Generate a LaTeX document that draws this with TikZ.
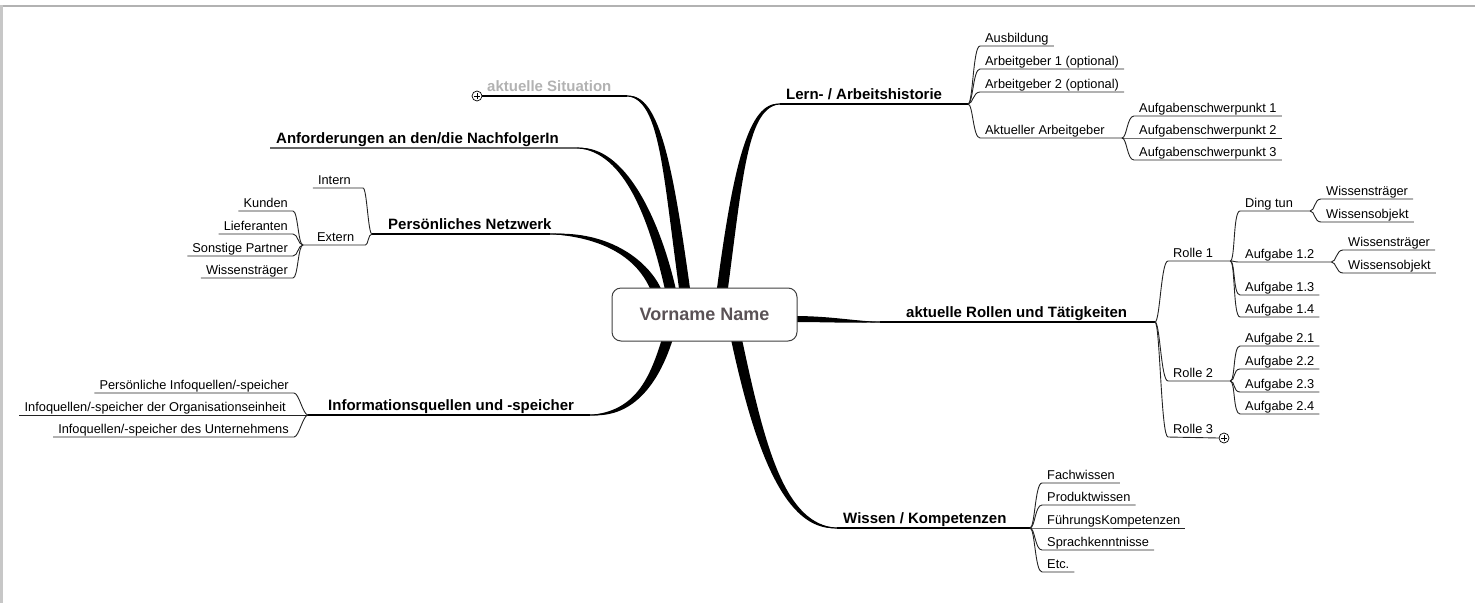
\documentclass[tikz,border=0pt]{standalone}
\usepackage{fontspec}
\setmainfont{Liberation Sans}
\usetikzlibrary{calc}
\definecolor{rootgray}{RGB}{90,82,86}
\definecolor{sitgray}{RGB}{178,178,178}
\definecolor{linegray}{RGB}{35,35,35}
\newcommand{\leaffont}{\fontsize{12.8}{15}\selectfont}
\newcommand{\brfont}{\fontsize{15}{18}\selectfont\bfseries}
% #1 start, #2 end, #3 c1 offset from start, #4 c2 offset from end, #5 half width at start, #6 half width offset at c2
\newcommand{\taperline}[6]{%
  \fill[black] ($(#1)+(#5)$) .. controls ($(#1)+(#5)+(#3)$) and ($(#2)+(#4)+(#6)$) .. (#2)
     .. controls ($(#2)+(#4)-(#6)$) and ($(#1)-(#5)+(#3)$) .. ($(#1)-(#5)$) -- cycle;
  \draw[black, line width=1.2pt] (#1) .. controls ($(#1)+(#3)$) and ($(#2)+(#4)$) .. (#2);}
\newcommand{\rconn}[2]{\draw[ul] (#1) .. controls +(5,0) and +(-7,0) .. (#2.south west) -- (#2.south east);}
\newcommand{\rconnp}[3]{\draw[ul] (#1) .. controls +(5,0) and +(-7,0) .. (#2.south west) -- (#3);}
\newcommand{\lconn}[2]{\draw[ul] (#2.south west) -- (#2.south east) .. controls +(5,0) and +(-5,0) .. (#1);}
\begin{document}
\begin{tikzpicture}[x=1pt,y=-1pt,
  leaf/.style={font=\leaffont, inner xsep=5pt, inner ysep=0pt, text depth=3pt, text height=9.5pt},
  brlabel/.style={font=\brfont, inner sep=0pt, anchor=base west},
  ul/.style={draw=linegray, line width=0.9pt},
  mainul/.style={draw=black, line width=1.1pt},
  plusc/.style={circle, draw=black, line width=0.7pt, minimum size=10pt, inner sep=0pt, fill=white,
    path picture={\draw[line width=0.6pt] ($(path picture bounding box.center)+(-2.8pt,0pt)$) -- ($(path picture bounding box.center)+(2.8pt,0pt)$);
                  \draw[line width=0.6pt] ($(path picture bounding box.center)+(0pt,-2.8pt)$) -- ($(path picture bounding box.center)+(0pt,2.8pt)$);}},
]
\useasboundingbox (0,0) rectangle (1475,603);
% frame
\fill[black!30] (0,4.5) rectangle (1475,7);
\fill[black!22] (0,4.5) rectangle (2.5,603);

% root position helper
\coordinate (rootc) at (704.5,314.5);

% main branch labels
\node[brlabel, text=sitgray] (sit) at (487,91) {aktuelle Situation};
\node[brlabel] (anf) at (276,143) {Anforderungen an den/die NachfolgerIn};
\node[brlabel] (pn) at (388,229) {Persönliches Netzwerk};
\node[brlabel] (info) at (328,410) {Informationsquellen und -speicher};
\node[brlabel] (lern) at (786,99) {Lern- / Arbeitshistorie};
\node[brlabel] (rollen) at (906,317) {aktuelle Rollen und Tätigkeiten};
\node[brlabel] (wissen) at (843,523) {Wissen / Kompetenzen};

\coordinate (sitB) at (627,96);
\coordinate (anfL) at (270,148);
\coordinate (anfB) at (577,148);
\coordinate (pnB) at (550,234);
\coordinate (pnfork) at (372,234);
\coordinate (infoB) at (590,415);
\coordinate (infofork) at (308,415);
\coordinate (lernB) at (780,104);
\coordinate (lernfork) at (968,104);
\coordinate (rollenB) at (880,322);
\coordinate (rfork) at (1155,322);
\coordinate (wissenB) at (837,528);
\coordinate (wfork) at (1030,528);

% taper anchors on root
\coordinate (sitA) at ($(rootc)+(-19.5,-22.5)$);
\coordinate (anfA) at ($(rootc)+(-33.5,-22.5)$);
\coordinate (pnA) at ($(rootc)+(-47.5,-22.5)$);
\coordinate (lernA) at ($(rootc)+(17.5,-22.5)$);
\coordinate (infoA) at ($(rootc)+(-36.5,22.5)$);
\coordinate (wissenA) at ($(rootc)+(31.5,22.5)$);
\coordinate (rollenA) at ($(rootc)+(88.5,4.5)$);

\taperline{sitA}{sitB}{-17,-122}{33,0}{5.5,0}{0,-4}
\taperline{anfA}{anfB}{-16,-72}{48,0}{5.5,0}{0,-4}
\taperline{pnA}{pnB}{-12,-30}{60,0}{5.5,0}{0,-4}
\taperline{lernA}{lernB}{16,-122}{-32,0}{5.5,0}{0,4}
\taperline{infoA}{infoB}{-13,43}{45,0}{5.5,0}{0,4}
\taperline{wissenA}{wissenB}{24,113}{-52,0}{5.5,0}{0,-4}
\taperline{rollenA}{rollenB}{37,0}{-30,0}{0,3}{0,1.5}

% root node
\node[draw=black!75, line width=1pt, rounded corners=9pt, fill=white,
      minimum width=185pt, minimum height=53pt,
      font=\fontsize{18}{20}\selectfont\bfseries, text=rootgray] (root) at (rootc) {Vorname Name};

% main underlines
\node[plusc] (sitplus) at (477,96) {};
\draw[mainul] (sitplus.east) -- (sitB);
\draw[draw=black!60, line width=1.5pt] (anfL) -- (anfB);
\draw[mainul] (pnfork) -- (pnB);
\draw[mainul] (infofork) -- (infoB);
\draw[mainul] (lernB) -- (lernfork);
\draw[mainul] (rollenB) -- (rfork);
\draw[mainul] (wissenB) -- (wfork);

% Lern- / Arbeitshistorie
\node[leaf,anchor=south west] (ausb) at (980,46) {Ausbildung};
\node[leaf,anchor=south west] (arb1) at (980,69) {Arbeitgeber 1 (optional)};
\node[leaf,anchor=south west] (arb2) at (980,92) {Arbeitgeber 2 (optional)};
\node[leaf,anchor=south west] (akt) at (980,138) {Aktueller Arbeitgeber};
\coordinate (aktfork) at ($(akt.south east)+(12,0)$);
\node[leaf,anchor=south west] (asp1) at (1134,116) {Aufgabenschwerpunkt 1};
\node[leaf,anchor=south west] (asp2) at (1134,138) {Aufgabenschwerpunkt 2};
\node[leaf,anchor=south west] (asp3) at (1134,160) {Aufgabenschwerpunkt 3};
\rconn{lernfork}{ausb}
\rconn{lernfork}{arb1}
\rconn{lernfork}{arb2}
\rconnp{lernfork}{akt}{aktfork}
\rconn{aktfork}{asp1}
\rconn{aktfork}{asp2}
\rconn{aktfork}{asp3}

% aktuelle Rollen und Taetigkeiten
\node[leaf,anchor=south west] (rolle1) at (1168,261) {Rolle 1};
\coordinate (r1fork) at ($(rolle1.south east)+(12,0)$);
\node[leaf,anchor=south west] (ding) at (1240,211) {Ding tun};
\coordinate (dingfork) at ($(ding.south east)+(12,0)$);
\node[leaf,anchor=south west] (ws1) at (1321,199) {Wissensträger};
\node[leaf,anchor=south west] (wo1) at (1321,222) {Wissensobjekt};
\node[leaf,anchor=south west] (a12) at (1240,262) {Aufgabe 1.2};
\coordinate (a12fork) at ($(a12.south east)+(12,0)$);
\node[leaf,anchor=south west] (ws2) at (1343,250) {Wissensträger};
\node[leaf,anchor=south west] (wo2) at (1343,273) {Wissensobjekt};
\node[leaf,anchor=south west] (a13) at (1240,295) {Aufgabe 1.3};
\node[leaf,anchor=south west] (a14) at (1240,317) {Aufgabe 1.4};
\node[leaf,anchor=south west] (rolle2) at (1168,381) {Rolle 2};
\coordinate (r2fork) at ($(rolle2.south east)+(12,0)$);
\node[leaf,anchor=south west] (a21) at (1240,346) {Aufgabe 2.1};
\node[leaf,anchor=south west] (a22) at (1240,369) {Aufgabe 2.2};
\node[leaf,anchor=south west] (a23) at (1240,392) {Aufgabe 2.3};
\node[leaf,anchor=south west] (a24) at (1240,414) {Aufgabe 2.4};
\node[leaf,anchor=south west] (rolle3) at (1168,437) {Rolle 3};
\node[plusc] (r3plus) at (1224,438) {};
\rconnp{rfork}{rolle1}{r1fork}
\rconnp{r1fork}{ding}{dingfork}
\rconn{dingfork}{ws1}
\rconn{dingfork}{wo1}
\rconnp{r1fork}{a12}{a12fork}
\rconn{a12fork}{ws2}
\rconn{a12fork}{wo2}
\rconn{r1fork}{a13}
\rconn{r1fork}{a14}
\rconnp{rfork}{rolle2}{r2fork}
\rconn{r2fork}{a21}
\rconn{r2fork}{a22}
\rconn{r2fork}{a23}
\rconn{r2fork}{a24}
\rconnp{rfork}{rolle3}{r3plus.west}

% Wissen / Kompetenzen
\node[leaf,anchor=south west] (fach) at (1042,483) {Fachwissen};
\node[leaf,anchor=south west] (prod) at (1042,505) {Produktwissen};
\node[leaf,anchor=south west] (fuehr) at (1042,528) {FührungsKompetenzen};
\node[leaf,anchor=south west] (sprach) at (1042,550) {Sprachkenntnisse};
\node[leaf,anchor=south west] (etc) at (1042,572) {Etc.};
\rconn{wfork}{fach}
\rconn{wfork}{prod}
\rconn{wfork}{fuehr}
\rconn{wfork}{sprach}
\rconn{wfork}{etc}

% Persoenliches Netzwerk
\node[leaf,anchor=south east] (intern) at (356,188) {Intern};
\draw[ul] (intern.south west) -- ($(intern.south east)+(7,0)$) .. controls +(4,0) and +(-4,0) .. (pnfork);
\node[leaf,anchor=south west] (extern) at (312,245) {Extern};
\coordinate (extfork) at (303,245);
\draw[ul] (extfork) -- ($(extern.south east)+(6,0)$) .. controls +(3,0) and +(-4,0) .. (pnfork);
\node[leaf,anchor=south east] (kunden) at (293,211) {Kunden};
\node[leaf,anchor=south east] (liefer) at (293,234) {Lieferanten};
\node[leaf,anchor=south east] (sonst) at (293,256) {Sonstige Partner};
\node[leaf,anchor=south east] (wiss) at (293,278) {Wissensträger};
\lconn{extfork}{kunden}
\lconn{extfork}{liefer}
\lconn{extfork}{sonst}
\lconn{extfork}{wiss}

% Informationsquellen
\node[leaf,anchor=south east] (pinfo) at (294,393) {Persönliche Infoquellen/-speicher};
\node[leaf,anchor=south east] (org) at (291,415) {Infoquellen/-speicher der Organisationseinheit};
\node[leaf,anchor=south east] (untern) at (294,437) {Infoquellen/-speicher des Unternehmens};
\lconn{infofork}{pinfo}
\draw[ul] (org.south west) -- (infofork);
\lconn{infofork}{untern}
\end{tikzpicture}
\end{document}
